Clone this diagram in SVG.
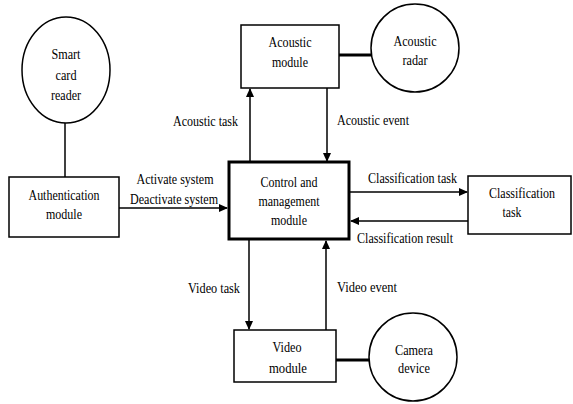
<svg xmlns="http://www.w3.org/2000/svg" width="573" height="404" viewBox="0 0 573 404">
<defs>
<marker id="ah" markerWidth="9" markerHeight="8" refX="8" refY="4" orient="auto" markerUnits="userSpaceOnUse">
<path d="M0,0 L9,4 L0,8 Z" fill="#000"/>
</marker>
</defs>
<style>
text{font-family:'Liberation Serif','Times New Roman',serif;font-size:14.5px;fill:#000}
.box{fill:#fff;stroke:#000;stroke-width:1.5}
.main{fill:#fff;stroke:#000;stroke-width:3}
.c{text-anchor:middle}
.e{text-anchor:end}
.ln{stroke:#000;stroke-width:1.5;fill:none}
.thick{stroke:#000;stroke-width:3;fill:none}
.arr{stroke:#000;stroke-width:1.5;fill:none;marker-end:url(#ah)}
</style>
<rect width="573" height="404" fill="#fff"/>
<g id="connectors">
<line class="ln" x1="65" y1="123" x2="65" y2="177"/>
<line class="arr" x1="119" y1="208" x2="227" y2="208"/>
<line class="arr" x1="250" y1="162" x2="250" y2="89"/>
<line class="arr" x1="327" y1="88" x2="327" y2="161"/>
<line class="thick" x1="339" y1="55" x2="371" y2="55"/>
<line class="arr" x1="350" y1="192" x2="467" y2="192"/>
<line class="arr" x1="468" y1="221" x2="351" y2="221"/>
<line class="arr" x1="249" y1="240" x2="249" y2="329"/>
<line class="arr" x1="326" y1="330" x2="326" y2="241"/>
<line class="thick" x1="336" y1="360" x2="369" y2="360"/>
<text class="c" x="175" y="184" textLength="77" lengthAdjust="spacingAndGlyphs">Activate system</text>
<text class="c" x="174" y="204" textLength="88" lengthAdjust="spacingAndGlyphs">Deactivate system</text>
<text class="e" x="238" y="126" textLength="65" lengthAdjust="spacingAndGlyphs">Acoustic task</text>
<text x="337" y="125" textLength="72" lengthAdjust="spacingAndGlyphs">Acoustic event</text>
<text x="368" y="183" textLength="89" lengthAdjust="spacingAndGlyphs">Classification task</text>
<text x="357" y="243" textLength="96" lengthAdjust="spacingAndGlyphs">Classification result</text>
<text class="e" x="240" y="293" textLength="52" lengthAdjust="spacingAndGlyphs">Video task</text>
<text x="337" y="292" textLength="60" lengthAdjust="spacingAndGlyphs">Video event</text>
</g>
<g id="smart-card-reader">
<ellipse class="box" cx="66" cy="70" rx="44" ry="53"/>
<text class="c" x="66" y="59" textLength="29" lengthAdjust="spacingAndGlyphs">Smart</text>
<text class="c" x="66" y="80" textLength="21" lengthAdjust="spacingAndGlyphs">card</text>
<text class="c" x="66" y="100" textLength="30" lengthAdjust="spacingAndGlyphs">reader</text>
</g>
<g id="authentication-module">
<rect class="box" x="9" y="177" width="110" height="60"/>
<text class="c" x="64" y="200" textLength="71" lengthAdjust="spacingAndGlyphs">Authentication</text>
<text class="c" x="64" y="219" textLength="36" lengthAdjust="spacingAndGlyphs">module</text>
</g>
<g id="control-module">
<rect class="main" x="229" y="162" width="120" height="77"/>
<text class="c" x="289" y="187" textLength="57" lengthAdjust="spacingAndGlyphs">Control and</text>
<text class="c" x="289" y="206" textLength="61" lengthAdjust="spacingAndGlyphs">management</text>
<text class="c" x="289" y="225" textLength="36" lengthAdjust="spacingAndGlyphs">module</text>
</g>
<g id="acoustic-module">
<rect class="box" x="241" y="25" width="98" height="63"/>
<text class="c" x="290" y="47" textLength="43" lengthAdjust="spacingAndGlyphs">Acoustic</text>
<text class="c" x="290" y="67" textLength="36" lengthAdjust="spacingAndGlyphs">module</text>
</g>
<g id="acoustic-radar">
<circle class="box" cx="415" cy="48" r="44"/>
<text class="c" x="415" y="46" textLength="43" lengthAdjust="spacingAndGlyphs">Acoustic</text>
<text class="c" x="415" y="65" textLength="25" lengthAdjust="spacingAndGlyphs">radar</text>
</g>
<g id="classification-task">
<rect class="box" x="468" y="176" width="103" height="58"/>
<text class="c" x="522" y="198" textLength="66" lengthAdjust="spacingAndGlyphs">Classification</text>
<text class="c" x="512" y="217" textLength="19" lengthAdjust="spacingAndGlyphs">task</text>
</g>
<g id="video-module">
<rect class="box" x="234" y="330" width="102" height="52"/>
<text class="c" x="287" y="352" textLength="29" lengthAdjust="spacingAndGlyphs">Video</text>
<text class="c" x="288" y="373" textLength="38" lengthAdjust="spacingAndGlyphs">module</text>
</g>
<g id="camera-device">
<circle class="box" cx="413" cy="357" r="44"/>
<text class="c" x="414" y="355" textLength="38" lengthAdjust="spacingAndGlyphs">Camera</text>
<text class="c" x="414" y="373" textLength="32" lengthAdjust="spacingAndGlyphs">device</text>
</g>
</svg>
